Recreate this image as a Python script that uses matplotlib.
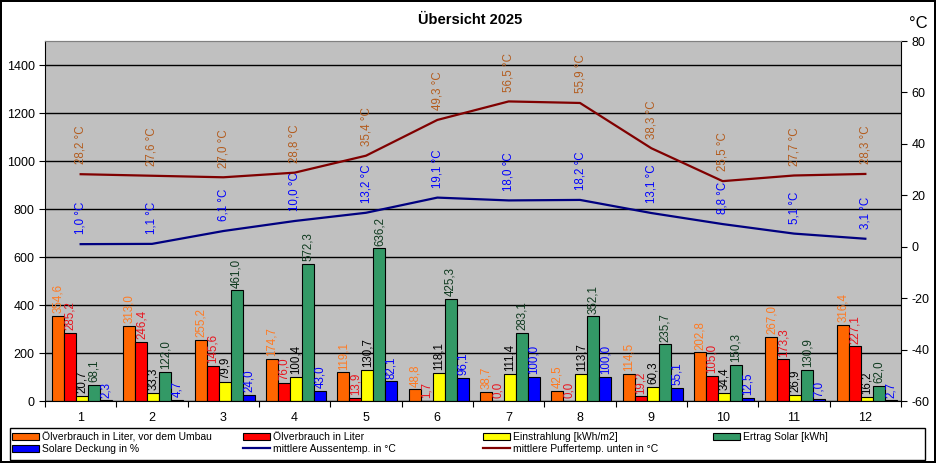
"""Übersicht 2025 - Ölverbrauch, Solar und Temperaturen."""
import numpy as np
import matplotlib
matplotlib.use("Agg")
import matplotlib.pyplot as plt
from matplotlib.patches import Patch, Rectangle
from matplotlib.lines import Line2D
from matplotlib.ticker import FixedLocator

plt.rcParams['font.family'] = ['Liberation Sans', 'DejaVu Sans']
plt.rcParams['axes.unicode_minus'] = False

months = list(range(1, 13))
oel_alt = [354.6, 313.0, 255.2, 174.7, 119.1, 48.8, 38.7, 42.5, 114.5, 202.8, 267.0, 316.4]
oel = [285.2, 246.4, 145.6, 76.0, 13.9, 1.7, 0.0, 0.0, 19.2, 105.0, 173.3, 227.1]
einstrahlung = [20.7, 33.3, 79.9, 100.4, 130.7, 118.1, 111.4, 113.7, 60.3, 34.4, 26.9, 16.2]
ertrag = [68.1, 122.0, 461.0, 572.3, 636.2, 425.3, 283.1, 352.1, 235.7, 150.3, 130.9, 62.0]
deckung = [2.3, 4.7, 24.0, 43.0, 82.1, 96.1, 100.0, 100.0, 55.1, 12.5, 7.0, 2.7]
t_aussen = [1.0, 1.1, 6.1, 10.0, 13.2, 19.1, 18.0, 18.2, 13.1, 8.8, 5.1, 3.1]
t_puffer = [28.2, 27.6, 27.0, 28.8, 35.4, 49.3, 56.5, 55.9, 38.3, 25.5, 27.7, 28.3]

bar_series = [
    ("Ölverbrauch in Liter, vor dem Umbau", oel_alt, "#FF6600", "#FF7A22"),
    ("Ölverbrauch in Liter", oel, "#FF0000", "#E8141E"),
    ("Einstrahlung [kWh/m2]", einstrahlung, "#FFFF00", "#000000"),
    ("Ertrag Solar [kWh]", ertrag, "#339966", "#0F3A1F"),
    ("Solare Deckung in %", deckung, "#0000FF", "#0000FF"),
]
line_names = ["mittlere Aussentemp. in °C", "mittlere Puffertemp. unten in °C"]


def fmt(v):
    """German decimal comma."""
    return "{:.1f}".format(v).replace(".", ",")


fig = plt.figure(figsize=(9.36, 4.63), dpi=100)
fig.patch.set_edgecolor("black")
fig.patch.set_linewidth(1.5)

ax = fig.add_axes([45 / 936, 1 - 401 / 463, 856 / 936, 360 / 463])
ax.set_facecolor("#C0C0C0")
ax.set_xlim(0.5, 12.5)
ax.set_ylim(0, 1500)
ax.set_yticks(range(0, 1401, 200))
ax.yaxis.grid(True, color="black", linewidth=1.0)
ax.set_axisbelow(True)

x = np.array(months)
w = 0.168
for k, (name, vals, col, lcol) in enumerate(bar_series):
    xs = x + (k - 2) * w + 0.02
    ax.bar(xs, vals, width=w, color=col, edgecolor="black", linewidth=0.8,
           zorder=2)
    for xi, v in zip(xs, vals):
        ax.annotate(fmt(v), (xi, v), xytext=(0, 2), textcoords="offset points",
                    rotation=90, ha="center", va="bottom", fontsize=8.3,
                    color=lcol, zorder=3)

ax.set_xticks(months)
ax.xaxis.set_minor_locator(FixedLocator(np.arange(0.5, 13, 1)))
ax.tick_params(axis="x", which="major", length=0, labelsize=9, pad=8)
ax.tick_params(axis="x", which="minor", length=4, width=0.8)
ax.tick_params(axis="y", labelsize=9, length=4, width=0.8)
for side in ("left", "bottom"):
    ax.spines[side].set_linewidth(0.8)
ax.spines["top"].set_color("#808080")
ax.spines["right"].set_visible(False)

ax2 = ax.twinx()
ax2.set_ylim(-60, 80)
ax2.set_yticks(range(-60, 81, 20))
ax2.tick_params(axis="y", labelsize=9, length=4, width=0.8)
ax2.spines["right"].set_linewidth(0.8)
ax2.spines["top"].set_color("#808080")
ax2.spines["left"].set_visible(False)
ax2.spines["bottom"].set_visible(False)

ax2.plot(x, t_aussen, color="#000080", linewidth=1.6, zorder=4)
ax2.plot(x, t_puffer, color="#800000", linewidth=1.6, zorder=4)
for xi, v in zip(x, t_aussen):
    ax2.annotate(fmt(v) + " °C", (xi, v), xytext=(0, 7),
                 textcoords="offset points", rotation=90, ha="center",
                 va="bottom", fontsize=8.3, color="#0000FF")
for xi, v in zip(x, t_puffer):
    ax2.annotate(fmt(v) + " °C", (xi, v), xytext=(0, 7),
                 textcoords="offset points", rotation=90, ha="center",
                 va="bottom", fontsize=8.3, color="#B35C1E")

fig.text(470 / 936, 1 - 20 / 463, "Übersicht 2025", ha="center", va="center",
         fontsize=10.5, fontweight="bold")
fig.text(918 / 936, 1 - 23 / 463, "°C", ha="center", va="center",
         fontsize=12)

# legend: box plus four single-column legends at fixed positions
fig.add_artist(Rectangle((10 / 936, 3 / 463), 915 / 936, 32 / 463,
                         transform=fig.transFigure, facecolor="white",
                         edgecolor="black", linewidth=1.0))


def patch(col):
    return Patch(facecolor=col, edgecolor="black", linewidth=0.8)


names = [s[0] for s in bar_series]
cols = [s[2] for s in bar_series]
columns = [
    ([patch(cols[0]), patch(cols[4])], [names[0], names[4]]),
    ([patch(cols[1]), Line2D([], [], color="#000080", linewidth=1.6)],
     [names[1], line_names[0]]),
    ([patch(cols[2]), Line2D([], [], color="#800000", linewidth=1.6)],
     [names[2], line_names[1]]),
    ([patch(cols[3])], [names[3]]),
]
col_x = [12, 243, 483, 713]
for (hs, ls), cx in zip(columns, col_x):
    fig.legend(hs, ls, loc="upper left",
               bbox_to_anchor=(cx / 936, 1 - 432 / 463),
               fontsize=7.5, frameon=False, borderpad=0, labelspacing=0.2,
               handlelength=2.6, handleheight=0.7, handletextpad=0.3,
               borderaxespad=0)

fig.savefig("out.png", dpi=100)
